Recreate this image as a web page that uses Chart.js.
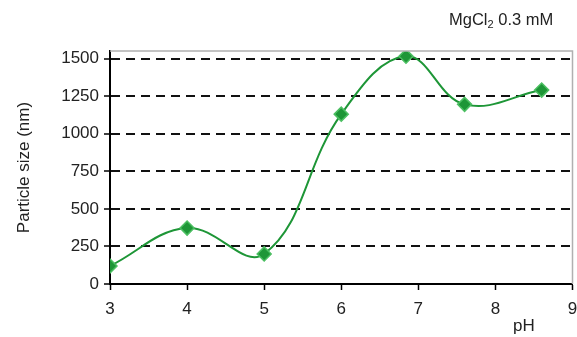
<!DOCTYPE html>
<html>
<head>
<meta charset="utf-8">
<script src="https://cdn.jsdelivr.net/npm/chart.js@4.4.1/dist/chart.umd.min.js"></script>
<style>
  html, body { margin: 0; padding: 0; background: #fff; overflow: hidden; }
  #wrap { position: relative; width: 577px; height: 337px; overflow: hidden; }
  .lbl { position: absolute; font-family: 'Liberation Sans', Arial, sans-serif; color: #222; white-space: nowrap; }
  #title { left: 449px; top: 10px; font-size: 16.5px; }
  #title sub { font-size: 11px; vertical-align: -3px; line-height: 0; }
  #xtitle { left: 513px; top: 316px; font-size: 17px; }
</style>
</head>
<body>
<div id="wrap">
  <canvas id="chart" width="581" height="337"></canvas>
  <div class="lbl" id="title">MgCl<sub>2</sub> 0.3 mM</div>
  <div class="lbl" id="xtitle">pH</div>
</div>
<script>
// ── data ──
const phValues = [3, 4, 5, 6, 6.84, 7.6, 8.6];
const particleSize = [120, 372, 200, 1130, 1515, 1195, 1290];
const yTicks = [0, 250, 500, 750, 1000, 1250, 1500];
const xTicks = [3, 4, 5, 6, 7, 8, 9];

const GREEN = '#1e9637';
const FONT = "'Liberation Sans', Arial, sans-serif";

// light grey frame on top/right of the plot area
const frame = {
  id: 'frame',
  afterDatasetsDraw(chart) {
    const a = chart.chartArea, ctx = chart.ctx;
    ctx.save();
    ctx.strokeStyle = '#b0b0b0';
    ctx.lineWidth = 1.5;
    ctx.beginPath();
    ctx.moveTo(a.left, a.top);
    ctx.lineTo(a.right, a.top);
    ctx.lineTo(a.right, a.bottom);
    ctx.stroke();
    ctx.restore();
  }
};

new Chart(document.getElementById('chart'), {
  type: 'line',
  data: {
    datasets: [{
      data: phValues.map((x, i) => ({ x: x, y: particleSize[i] })),
      borderColor: GREEN,
      backgroundColor: GREEN,
      borderWidth: 2,
      tension: 0.4,
      pointStyle: 'rectRot',
      pointRadius: 7,
      pointBorderWidth: 1.5,
      pointBorderColor: '#4cbf62',
      fill: false
    }]
  },
  options: {
    responsive: false,
    animation: false,
    layout: { padding: { left: 12, right: 0, top: 51, bottom: 0 } },
    plugins: { legend: { display: false }, tooltip: { enabled: false } },
    scales: {
      x: {
        type: 'linear',
        min: 3, max: 9,
        afterBuildTicks: s => { s.ticks = xTicks.map(v => ({ value: v })); },
        afterFit: s => { s.height = 53; s.paddingRight = 0; s.paddingLeft = 0; },
        ticks: { color: '#222', font: { family: FONT, size: 17 }, padding: 9, callback: v => String(v) },
        grid: { drawOnChartArea: false, tickLength: 6, tickColor: '#000', tickWidth: 1.5 },
        border: { color: '#000', width: 2 }
      },
      y: {
        min: 0, max: 1550,
        afterBuildTicks: s => { s.ticks = yTicks.map(v => ({ value: v })); },
        afterFit: s => { s.width = 98; s.paddingTop = 0; s.paddingBottom = 0; },
        ticks: { color: '#222', font: { family: FONT, size: 17 }, padding: 5, callback: v => String(v) },
        title: { display: true, text: 'Particle size (nm)', color: '#222', font: { family: FONT, size: 17 }, padding: { top: 2, bottom: 0 } },
        grid: {
          color: c => c.tick && c.tick.value === 0 ? 'rgba(0,0,0,0)' : '#111',
          lineWidth: 2,
          tickLength: 6,
          tickColor: '#000',
          tickWidth: 1.5
        },
        border: { color: '#000', width: 2, dash: [9, 6] }
      }
    }
  },
  plugins: [frame]
});
</script>
</body>
</html>
